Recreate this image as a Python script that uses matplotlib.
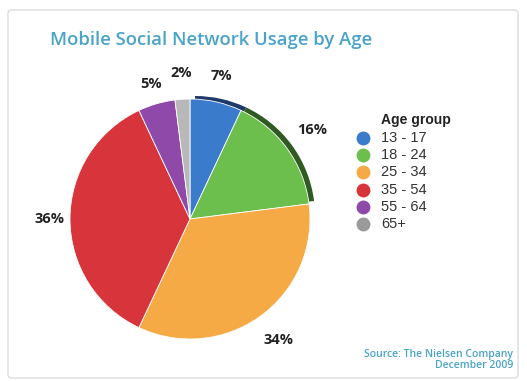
import matplotlib
matplotlib.use("Agg")
import matplotlib.pyplot as plt
import numpy as np
from matplotlib.patches import FancyBboxPatch
from matplotlib.lines import Line2D

# ---- data ----
categories = ["13 - 17", "18 - 24", "25 - 34", "35 - 54", "55 - 64", "65+"]
shares = [7, 16, 34, 36, 5, 2]
colors = ["#3b7bcc", "#6cbf4c", "#f5aa45", "#d7353b", "#8f4aa9", "#b8b8b8"]
legend_colors = ["#3b7bcc", "#6cbf4c", "#f5aa45", "#d7353b", "#8f4aa9", "#9a9a9a"]
rim_colors = ["#1e3a66", "#2f5a22", "none", "none", "none", "none"]
title = "Mobile Social Network Usage by Age"
legend_title = "Age group"
source_lines = ["Source: The Nielsen Company", "December 2009"]

W, H = 527, 381
DPI = 100
fig = plt.figure(figsize=(W / DPI, H / DPI), dpi=DPI)
fig.patch.set_facecolor("white")

def fx(px):
    return px / W

def fy(py):
    return 1 - py / H

# frame
frame = FancyBboxPatch((fx(8), fy(378)), fx(518) - fx(8), fy(10) - fy(378),
                       boxstyle="round,pad=0,rounding_size=0.008",
                       transform=fig.transFigure, facecolor="none",
                       edgecolor="#dcdcdc", linewidth=1.0)
fig.patches.append(frame)

# pie axes covering whole figure; 1 unit = R px
R = 120
cx, cy = 190, 219
ax = fig.add_axes([0, 0, 1, 1])

# dark rim (3D edge) behind the pie
ax.pie(shares, colors=rim_colors, startangle=90, counterclock=False,
       radius=1.0, center=(5 / R, 3 / R), wedgeprops=dict(linewidth=0))

wedges, _, autotexts = ax.pie(
    shares, colors=colors, startangle=90, counterclock=False, radius=1.0,
    center=(0, 0), autopct=lambda p: f"{round(p)}%", pctdistance=1.21,
    wedgeprops=dict(linewidth=0.6, edgecolor="white"),
    textprops=dict(fontsize=10.5, fontweight="bold", color="#222222",
                   family="Open Sans"))

# per-label radial distance (style only)
label_dist = [1.22, 1.26, 1.25, 1.17, 1.17, 1.22]
for w, t, d in zip(wedges, autotexts, label_dist):
    ang = np.deg2rad((w.theta1 + w.theta2) / 2)
    t.set_position((d * np.cos(ang), d * np.sin(ang)))

ax.set_xlim(-cx / R, (W - cx) / R)
ax.set_ylim(-(H - cy) / R, cy / R)
ax.set_aspect("equal")
ax.axis("off")

# title
fig.text(fx(50), fy(40), title, fontsize=13.3, color="#4aa3c8",
         family="Open Sans", fontweight="semibold", ha="left", va="center")

# legend (manual)
fig.text(fx(381), fy(120), legend_title, fontsize=10, fontweight="bold",
         color="#222222", family="Liberation Sans", ha="left", va="center")
row0, step = 138, 17.2
for i, (lab, c) in enumerate(zip(categories, legend_colors)):
    y = row0 + i * step
    fig.lines.append(Line2D([fx(363)], [fy(y)], marker="o", markersize=10,
                            color=c, markeredgewidth=0,
                            transform=fig.transFigure))
    fig.text(fx(381), fy(y), lab, fontsize=10.5, color="#333333",
             family="Liberation Sans", ha="left", va="center")

# source
fig.text(fx(513), fy(354), source_lines[0], fontsize=7.5, color="#4aa3c8",
         family="Open Sans", fontweight="semibold", ha="right", va="center")
fig.text(fx(513), fy(366), source_lines[1], fontsize=7.5, color="#4aa3c8",
         family="Open Sans", fontweight="semibold", ha="right", va="center")

fig.savefig("out.png", dpi=DPI)
